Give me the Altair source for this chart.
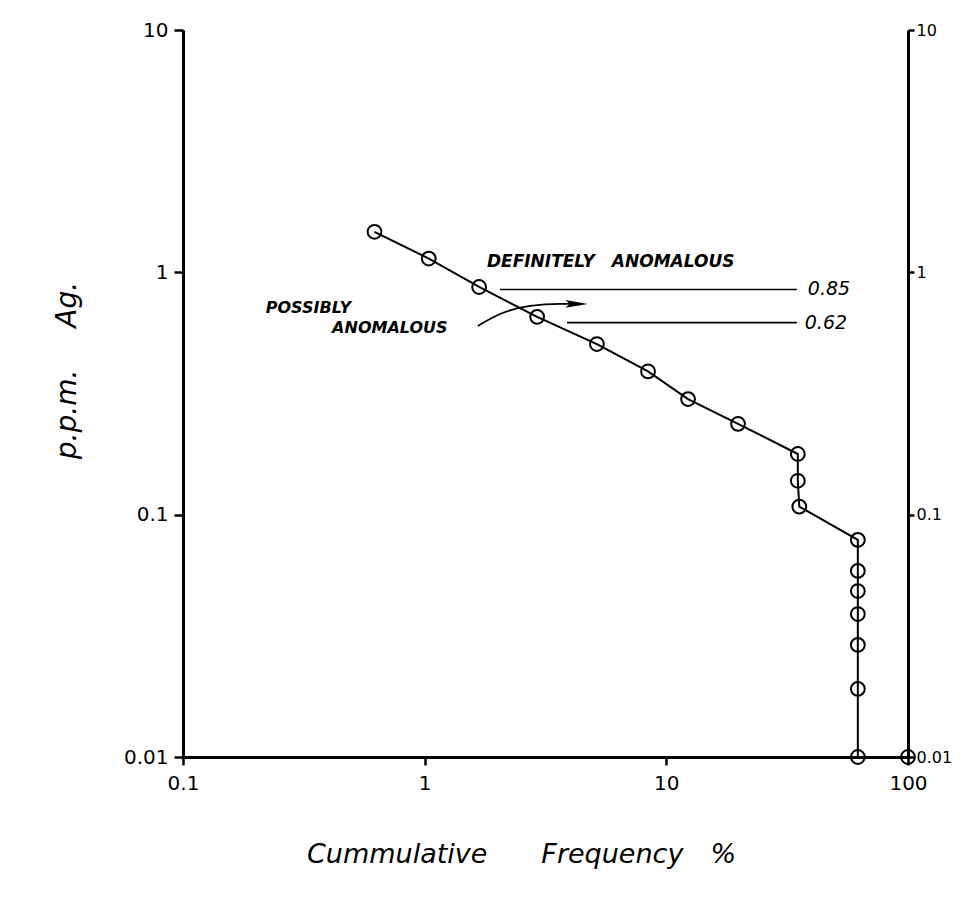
import altair as alt
import pandas as pd

# Cumulative frequency (%) and ppm Ag
freq = [0.62, 1.04, 1.68, 2.92, 5.16, 8.4, 12.3, 19.8, 35.0, 35.0, 35.5, 62.0, 62.0, 62.0, 62.0, 62.0, 62.0, 62.0, 100.0]
ppm = [1.47, 1.14, 0.87, 0.655, 0.506, 0.39, 0.30, 0.237, 0.178, 0.138, 0.108, 0.0787, 0.0586, 0.0484, 0.0389, 0.029, 0.0191, 0.01, 0.01]

x_ticks = [0.1, 1, 10, 100]
y_ticks = [0.01, 0.1, 1, 10]

# threshold lines
thr_value = [0.85, 0.62]
thr_start = [2.05, 3.88]
thr_end = [34.7, 34.7]
thr_label = ["0.85", "0.62"]
thr_label_x = [38.5, 37.4]

# annotation texts
SP = "\u2002"
ann_text = ["DEFINITELY" + SP * 2 + "ANOMALOUS", "POSSIBLY", "ANOMALOUS"]
ann_x = [1.81, 0.22, 0.414]
ann_y = [1.10, 0.713, 0.59]
ann_size = [17, 16, 16]

# curved arrow
arrow_x = [1.66, 2.05, 2.73, 3.63, 4.3]
arrow_y = [0.601, 0.673, 0.727, 0.741, 0.741]
head_x = [4.25]
head_y = [0.741]

FONT = "DejaVu Sans"

df = pd.DataFrame({"f": freq, "p": ppm, "i": list(range(len(freq)))})
thr = pd.DataFrame({"v": thr_value, "x1": thr_start, "x2": thr_end, "lab": thr_label, "lx": thr_label_x})
ann = pd.DataFrame({"t": ann_text, "x": ann_x, "y": ann_y, "s": ann_size})
arr = pd.DataFrame({"x": arrow_x, "y": arrow_y, "i": list(range(len(arrow_x)))})
head = pd.DataFrame({"x": head_x, "y": head_y})

xscale = alt.Scale(type="log", domain=[0.1, 100], nice=False)
yscale = alt.Scale(type="log", domain=[0.01, 10], nice=False)

W, H = 725, 727

xaxis = alt.Axis(values=x_ticks, grid=False, domainColor="black", domainWidth=3,
                 tickColor="black", tickWidth=2.5, tickSize=8, labelPadding=8, labelFlush=False,
                 labelFont=FONT, labelFontSize=20, labelColor="black",
                 labelExpr="format(datum.value, '~g')",
                 title="Cummulative" + SP * 4 + "Frequency" + SP * 2 + "%", titleFont=FONT, titleFontSize=27,
                 titleFontStyle="italic", titleFontWeight="normal", titleColor="black",
                 titleX=338, titleY=105, titleAlign="center", titleBaseline="alphabetic")
yaxis_left = alt.Axis(values=y_ticks, grid=False, orient="left", domainColor="black", domainWidth=3,
                      tickColor="black", tickWidth=2.5, tickSize=9, labelPadding=6, labelFlush=False,
                      labelFont=FONT, labelFontSize=20, labelColor="black",
                      labelExpr="format(datum.value, '~g')",
                      title="p.p.m." + SP * 3 + "Ag.", titleFont=FONT, titleFontSize=28,
                      titleFontStyle="italic", titleFontWeight="normal", titleColor="black",
                      titleX=-108, titleY=340, titleAlign="center", titleBaseline="alphabetic",
                      titleAngle=270)
yaxis_right = alt.Axis(values=y_ticks, grid=False, orient="right", domainColor="black", domainWidth=3,
                       tickColor="black", tickWidth=2.5, tickSize=6, labelPadding=2, labelFlush=False,
                       labelFont=FONT, labelFontSize=16, labelColor="black",
                       labelExpr="format(datum.value, '~g')", title="")

line = alt.Chart(df).mark_line(color="black", strokeWidth=2).encode(
    x=alt.X("f:Q", scale=xscale, axis=xaxis),
    y=alt.Y("p:Q", scale=yscale, axis=yaxis_left),
    order="i:Q",
)
right = alt.Chart(df).mark_point(opacity=0).encode(
    x=alt.X("f:Q", scale=xscale),
    y=alt.Y("p:Q", scale=yscale, axis=yaxis_right),
)
pts = alt.Chart(df).mark_point(shape="circle", size=190, filled=False,
                               stroke="black", strokeWidth=2, opacity=1).encode(
    x=alt.X("f:Q", scale=xscale),
    y=alt.Y("p:Q", scale=yscale, axis=None),
)
rules = alt.Chart(thr).mark_rule(color="black", strokeWidth=1.6).encode(
    x=alt.X("x1:Q", scale=xscale), x2="x2:Q",
    y=alt.Y("v:Q", scale=yscale, axis=None)
)
thr_text = alt.Chart(thr).mark_text(align="left", baseline="middle", font=FONT, fontSize=19,
                                    fontStyle="italic", color="black").encode(
    x=alt.X("lx:Q", scale=xscale), y=alt.Y("v:Q", scale=yscale, axis=None), text="lab:N"
)
ann_marks = alt.Chart(ann).mark_text(align="left", baseline="middle", font=FONT,
                                     fontStyle="italic", fontWeight="bold", color="black").encode(
    x=alt.X("x:Q", scale=xscale), y=alt.Y("y:Q", scale=yscale, axis=None), text="t:N",
    size=alt.Size("s:Q", scale=None, legend=None)
)
arrow = alt.Chart(arr).mark_line(color="black", strokeWidth=1.8, interpolate="monotone").encode(
    x=alt.X("x:Q", scale=xscale), y=alt.Y("y:Q", scale=yscale, axis=None), order="i:Q"
)
arrow_head = alt.Chart(head).mark_point(shape="M -1 -0.35 L 1 0 L -1 0.35 L -0.6 0 Z", size=500,
                                        filled=True, color="black", opacity=1).encode(
    x=alt.X("x:Q", scale=xscale), y=alt.Y("y:Q", scale=yscale, axis=None)
)

chart = alt.layer(line, right, rules, arrow, arrow_head, pts, thr_text, ann_marks).resolve_axis(
    y="independent"
).properties(
    width=W, height=H,
    autosize=alt.AutoSizeParams(type="none"),
    padding={"left": 175, "top": 22, "right": 44, "bottom": 130},
    background="white",
).configure_view(strokeWidth=0)

chart.save("out.html", embed_options={"renderer": "svg", "actions": False})
